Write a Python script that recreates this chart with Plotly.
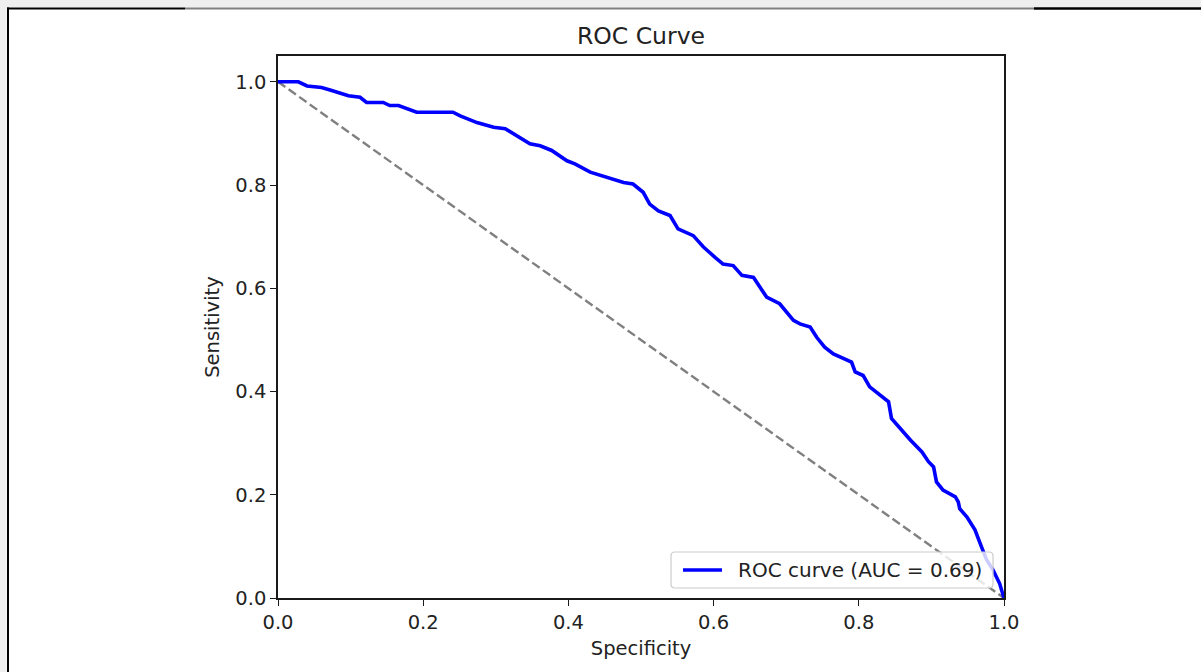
import plotly.graph_objects as go

# ROC curve points (specificity on x, sensitivity on y)
specificity = [0.0, 0.028, 0.040, 0.060, 0.074, 0.097, 0.113, 0.122, 0.145, 0.154,
               0.166, 0.191, 0.241, 0.251, 0.274, 0.297, 0.313, 0.324, 0.347, 0.361,
               0.377, 0.398, 0.409, 0.430, 0.439, 0.457, 0.476, 0.489, 0.503, 0.512,
               0.524, 0.540, 0.551, 0.572, 0.586, 0.602, 0.613, 0.627, 0.639, 0.655,
               0.664, 0.673, 0.691, 0.710, 0.719, 0.733, 0.742, 0.753, 0.765, 0.779,
               0.790, 0.795, 0.806, 0.815, 0.829, 0.841, 0.845, 0.857, 0.871, 0.887,
               0.896, 0.903, 0.907, 0.916, 0.933, 0.937, 0.939, 0.949, 0.960, 0.969,
               0.976, 0.985, 0.994, 0.998, 1.0]
sensitivity = [1.0, 1.0, 0.992, 0.989, 0.983, 0.973, 0.970, 0.960, 0.960, 0.954,
               0.954, 0.941, 0.941, 0.934, 0.921, 0.912, 0.909, 0.899, 0.880, 0.876,
               0.867, 0.847, 0.841, 0.825, 0.821, 0.812, 0.805, 0.802, 0.786, 0.763,
               0.750, 0.741, 0.715, 0.702, 0.680, 0.660, 0.647, 0.644, 0.625, 0.621,
               0.602, 0.583, 0.570, 0.538, 0.531, 0.525, 0.505, 0.486, 0.473, 0.464,
               0.457, 0.438, 0.431, 0.409, 0.393, 0.380, 0.348, 0.328, 0.306, 0.283,
               0.264, 0.254, 0.225, 0.209, 0.196, 0.186, 0.173, 0.157, 0.132, 0.099,
               0.074, 0.054, 0.028, 0.009, 0.0]
auc_value = 0.69

# chance line
chance_x = [0.0, 1.0]
chance_y = [1.0, 0.0]

tick_vals = [0.0, 0.2, 0.4, 0.6, 0.8, 1.0]

W, H = 1201, 672
L, R, T, B = 278, 1004, 56, 598
FONT = "DejaVu Sans"
ROC_COLOR = "#0000ff"
ROC_WIDTH = 3.6
roc_label = f"ROC curve (AUC = {auc_value:.2f})"


def px_x(p):
    return (p - L) / (R - L)


def px_y(p):
    return (B - p) / (B - T)


fig = go.Figure()
fig.add_trace(go.Scatter(x=chance_x, y=chance_y, mode="lines",
                         line=dict(color="#808080", width=2.4, dash="9px,4px"),
                         showlegend=False, hoverinfo="skip"))
fig.add_trace(go.Scatter(x=specificity, y=sensitivity, mode="lines",
                         line=dict(color=ROC_COLOR, width=ROC_WIDTH),
                         name=roc_label, showlegend=False))

axis_common = dict(showline=True, linecolor="#1a1a1a", linewidth=1.6, mirror=True,
                   ticks="outside", ticklen=6, tickwidth=1.4, tickcolor="#1a1a1a",
                   showgrid=False, zeroline=False, tickvals=tick_vals,
                   tickformat=".1f", tickfont=dict(family=FONT, size=19.5, color="#222"))

fig.update_xaxes(range=[0, 1], title=dict(text="Specificity", standoff=8,
                 font=dict(family=FONT, size=19.5, color="#222")), **axis_common)
fig.update_yaxes(range=[0, 1.05], title=dict(text="Sensitivity", standoff=10,
                 font=dict(family=FONT, size=19.5, color="#222")), **axis_common)


def rounded_box(x0, y0, x1, y1, r):
    # rounded rectangle path in paper units from pixel corners
    pts = [
        f"M {px_x(x0 + r)} {px_y(y0)}",
        f"L {px_x(x1 - r)} {px_y(y0)}",
        f"Q {px_x(x1)} {px_y(y0)} {px_x(x1)} {px_y(y0 + r)}",
        f"L {px_x(x1)} {px_y(y1 - r)}",
        f"Q {px_x(x1)} {px_y(y1)} {px_x(x1 - r)} {px_y(y1)}",
        f"L {px_x(x0 + r)} {px_y(y1)}",
        f"Q {px_x(x0)} {px_y(y1)} {px_x(x0)} {px_y(y1 - r)}",
        f"L {px_x(x0)} {px_y(y0 + r)}",
        f"Q {px_x(x0)} {px_y(y0)} {px_x(x0 + r)} {px_y(y0)}",
        "Z",
    ]
    return " ".join(pts)


shapes = [
    # page frame around the figure
    dict(type="rect", xref="paper", yref="paper", x0=px_x(0), x1=px_x(W), y0=px_y(0), y1=px_y(7.5),
         fillcolor="#efefef", line=dict(width=0), layer="above"),
    dict(type="rect", xref="paper", yref="paper", x0=px_x(0), x1=px_x(6.5), y0=px_y(0), y1=px_y(H),
         fillcolor="#efefef", line=dict(width=0), layer="above"),
    dict(type="line", xref="paper", yref="paper", x0=px_x(7), x1=px_x(185), y0=px_y(8.5), y1=px_y(8.5),
         line=dict(color="#000000", width=2), layer="above"),
    dict(type="line", xref="paper", yref="paper", x0=px_x(185), x1=px_x(1034), y0=px_y(8.5), y1=px_y(8.5),
         line=dict(color="#808080", width=2), layer="above"),
    dict(type="line", xref="paper", yref="paper", x0=px_x(1034), x1=px_x(W), y0=px_y(8.5), y1=px_y(8.5),
         line=dict(color="#000000", width=2.5), layer="above"),
    dict(type="line", xref="paper", yref="paper", x0=px_x(8), x1=px_x(8), y0=px_y(7.5), y1=px_y(H),
         line=dict(color="#000000", width=2), layer="above"),
    # legend box and its line sample
    dict(type="path", xref="paper", yref="paper", path=rounded_box(671, 552, 993, 588, 4),
         fillcolor="rgba(255,255,255,0.8)", line=dict(color="#cccccc", width=1.2), layer="above"),
    dict(type="line", xref="paper", yref="paper", x0=px_x(683), x1=px_x(722), y0=px_y(570), y1=px_y(570),
         line=dict(color=ROC_COLOR, width=ROC_WIDTH), layer="above"),
]

annotations = [
    dict(text=roc_label, xref="paper", yref="paper", x=px_x(736), y=px_y(570),
         xanchor="left", yanchor="middle", showarrow=False,
         font=dict(family=FONT, size=20, color="#222")),
]

fig.update_layout(
    width=W, height=H,
    margin=dict(l=L, r=W - R, t=T, b=H - B, pad=0),
    paper_bgcolor="white", plot_bgcolor="white",
    font=dict(family=FONT, color="#222"),
    title=dict(text="ROC Curve", x=(L + R) / 2 / W, xanchor="center",
               y=1 - 36 / H, yanchor="middle", yref="container",
               font=dict(family=FONT, size=23.5, color="#222")),
    showlegend=False,
    shapes=shapes,
    annotations=annotations,
)

fig.write_html("out.html")
